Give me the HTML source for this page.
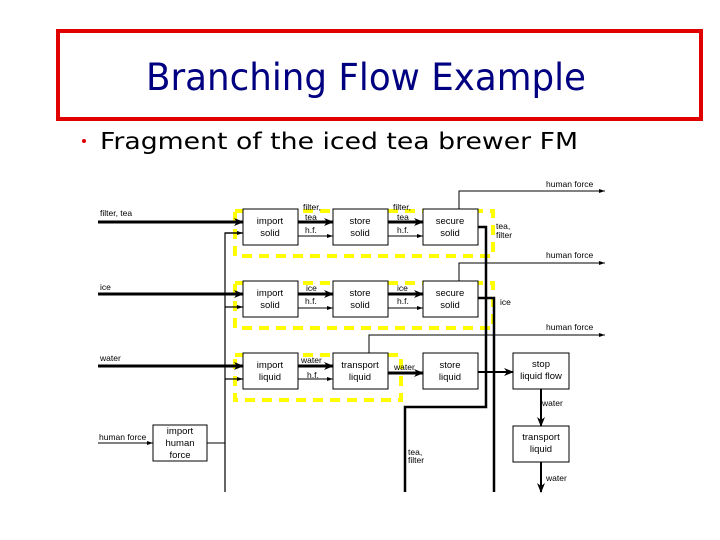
<!DOCTYPE html>
<html><head><meta charset="utf-8"><style>
html,body{margin:0;padding:0;background:#fff;width:720px;height:540px;overflow:hidden}
svg{display:block}
</style></head><body>
<svg width="720" height="540" xmlns="http://www.w3.org/2000/svg" font-family="Liberation Sans, sans-serif">
<defs>
<marker id="a" markerWidth="10" markerHeight="8" refX="9" refY="4" orient="auto" markerUnits="userSpaceOnUse"><path d="M0,0 L10,4 L0,8 L3,4z" fill="#000"/></marker>
<marker id="s" markerWidth="6" markerHeight="4" refX="6" refY="2" orient="auto" markerUnits="userSpaceOnUse"><path d="M0,0 L6,2 L0,4z" fill="#000"/></marker>
</defs>
<rect x="58" y="31" width="643" height="88" fill="none" stroke="#e00000" stroke-width="4"/>
<text x="366" y="90" text-anchor="middle" font-size="37" fill="#000080" font-family="DejaVu Sans, sans-serif" textLength="440" lengthAdjust="spacingAndGlyphs">Branching Flow Example</text>
<circle cx="84" cy="141" r="2" fill="#e00000"/>
<text x="100" y="149" font-size="23" fill="#000" font-family="DejaVu Sans, sans-serif" textLength="478" lengthAdjust="spacingAndGlyphs">Fragment of the iced tea brewer FM</text>

<g fill="none" stroke="#ff0" stroke-width="4" stroke-dasharray="10,7">
<rect x="235" y="211" width="258" height="45"/>
<rect x="235" y="283" width="258" height="45"/>
<rect x="235" y="355" width="166" height="45"/>
</g>

<g fill="#fff" stroke="#000" stroke-width="1">
<rect x="243" y="209" width="55" height="36"/><rect x="333" y="209" width="55" height="36"/><rect x="423" y="209" width="55" height="36"/>
<rect x="243" y="281" width="55" height="36"/><rect x="333" y="281" width="55" height="36"/><rect x="423" y="281" width="55" height="36"/>
<rect x="243" y="353" width="55" height="36"/><rect x="333" y="353" width="55" height="36"/><rect x="423" y="353" width="55" height="36"/>
<rect x="513" y="353" width="56" height="36"/><rect x="513" y="426" width="56" height="36"/>
<rect x="153" y="425" width="54" height="36"/>
</g>

<g stroke="#000" fill="none">
<!-- thick inputs -->
<line x1="98" y1="222" x2="243" y2="222" stroke-width="3" marker-end="url(#a)"/>
<line x1="98" y1="294" x2="243" y2="294" stroke-width="3" marker-end="url(#a)"/>
<line x1="98" y1="366" x2="243" y2="366" stroke-width="3" marker-end="url(#a)"/>
<line x1="298" y1="222" x2="333" y2="222" stroke-width="3" marker-end="url(#a)"/>
<line x1="388" y1="222" x2="423" y2="222" stroke-width="3" marker-end="url(#a)"/>
<line x1="298" y1="294" x2="333" y2="294" stroke-width="3" marker-end="url(#a)"/>
<line x1="388" y1="294" x2="423" y2="294" stroke-width="3" marker-end="url(#a)"/>
<line x1="298" y1="366" x2="333" y2="366" stroke-width="3" marker-end="url(#a)"/>
<line x1="388" y1="373" x2="423" y2="373" stroke-width="3" marker-end="url(#a)"/>
<line x1="478" y1="372" x2="513" y2="372" stroke-width="2" marker-end="url(#a)"/>
<line x1="541" y1="389" x2="541" y2="426" stroke-width="2" marker-end="url(#a)"/>
<line x1="541" y1="462" x2="541" y2="492" stroke-width="2" marker-end="url(#a)"/>
<!-- thin h.f. -->
<polyline points="243,233 225,233 225,492" stroke-width="1.2"/>
<line x1="225" y1="307" x2="243" y2="307" stroke-width="1.2" marker-end="url(#s)"/>
<line x1="225" y1="379" x2="243" y2="379" stroke-width="1.2" marker-end="url(#s)"/>
<line x1="225" y1="233" x2="243" y2="233" stroke-width="1.2" marker-end="url(#s)"/>
<line x1="298" y1="236" x2="333" y2="236" stroke-width="1" marker-end="url(#s)"/>
<line x1="388" y1="236" x2="423" y2="236" stroke-width="1" marker-end="url(#s)"/>
<line x1="298" y1="308" x2="333" y2="308" stroke-width="1" marker-end="url(#s)"/>
<line x1="388" y1="308" x2="423" y2="308" stroke-width="1" marker-end="url(#s)"/>
<line x1="298" y1="379" x2="333" y2="379" stroke-width="1" marker-end="url(#s)"/>
<line x1="98" y1="443" x2="153" y2="443" stroke-width="1" marker-end="url(#s)"/>
<line x1="207" y1="443" x2="225" y2="443" stroke-width="1"/>
<!-- human force outputs -->
<polyline points="459,209 459,191 605,191" stroke-width="1" marker-end="url(#s)"/>
<polyline points="459,281 459,263 605,263" stroke-width="1" marker-end="url(#s)"/>
<polyline points="369,353 369,335 605,335" stroke-width="1" marker-end="url(#s)"/>
<!-- secure outputs -->
<polyline points="478,227 486,227 486,407 405,407 405,492" stroke-width="2.5"/>
<polyline points="478,298 494,298 494,492" stroke-width="2.5"/>
</g>

<g font-size="8.5" fill="#000">
<text x="100" y="216">filter, tea</text>
<text x="100" y="290">ice</text>
<text x="100" y="361">water</text>
<text x="99" y="440">human force</text>
<text x="546" y="187">human force</text>
<text x="546" y="258">human force</text>
<text x="546" y="330">human force</text>
<text x="303" y="210">filter,</text><text x="305" y="220">tea</text><text x="305" y="233">h.f.</text>
<text x="393" y="210">filter,</text><text x="397" y="220">tea</text><text x="397" y="233">h.f.</text>
<text x="306" y="291">ice</text><text x="305" y="304">h.f.</text>
<text x="397" y="291">ice</text><text x="397" y="304">h.f.</text>
<text x="301" y="363">water</text><text x="307" y="378">h.f.</text>
<text x="394" y="370">water</text>
<text x="496" y="229">tea,</text><text x="496" y="238">filter</text>
<text x="500" y="305">ice</text>
<text x="408" y="455">tea,</text><text x="408" y="463">filter</text>
<text x="542" y="406">water</text>
<text x="546" y="481">water</text>
</g>
<g font-size="9.5" fill="#000" text-anchor="middle">
<text x="270" y="224">import</text><text x="270" y="236">solid</text>
<text x="360" y="224">store</text><text x="360" y="236">solid</text>
<text x="450" y="224">secure</text><text x="450" y="236">solid</text>
<text x="270" y="296">import</text><text x="270" y="308">solid</text>
<text x="360" y="296">store</text><text x="360" y="308">solid</text>
<text x="450" y="296">secure</text><text x="450" y="308">solid</text>
<text x="270" y="368">import</text><text x="270" y="380">liquid</text>
<text x="360" y="368">transport</text><text x="360" y="380">liquid</text>
<text x="450" y="368">store</text><text x="450" y="380">liquid</text>
<text x="541" y="367">stop</text><text x="541" y="379">liquid flow</text>
<text x="541" y="440">transport</text><text x="541" y="452">liquid</text>
<text x="180" y="434">import</text><text x="180" y="446">human</text><text x="180" y="458">force</text>
</g>
</svg>
</body></html>
